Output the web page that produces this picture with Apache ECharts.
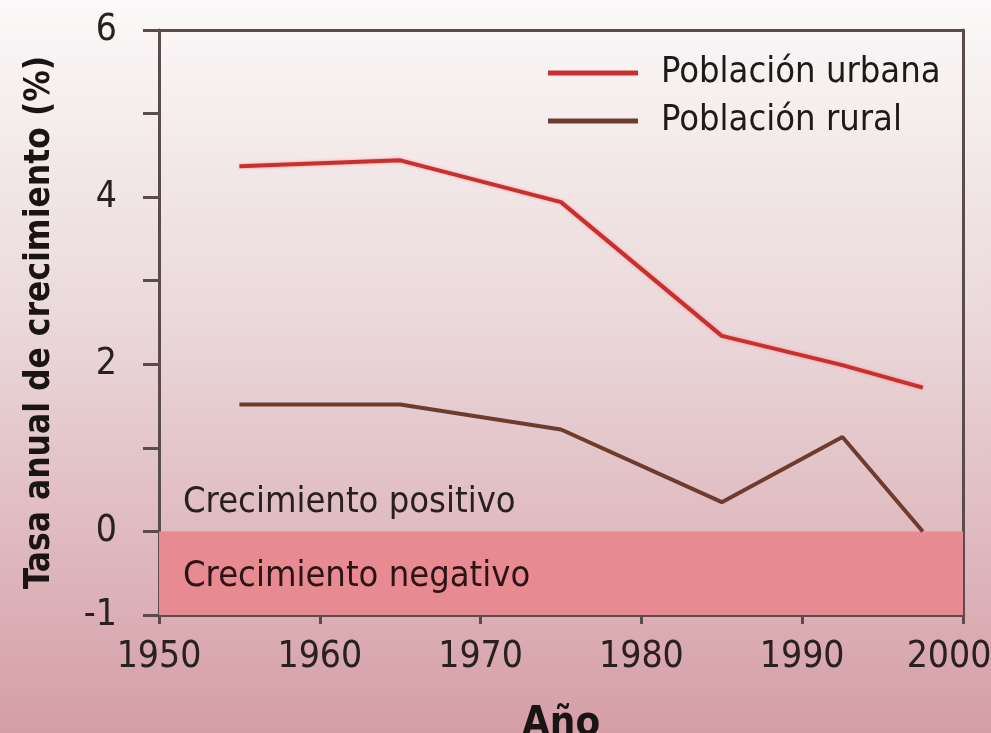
<!DOCTYPE html>
<html>
<head>
<meta charset="utf-8">
<script src="https://cdn.jsdelivr.net/npm/echarts@6/dist/echarts.min.js"></script>
<style>
html,body{margin:0;padding:0;}
#chart{width:991px;height:733px;}
</style>
</head>
<body>
<div id="chart"></div>
<script>
const urbanYears = [1955, 1965, 1975, 1985, 1992.5, 1997.5];
const urbanValues = [4.37, 4.44, 3.94, 2.34, 1.99, 1.72];
const ruralYears = [1955, 1965, 1975, 1985, 1992.5, 1997.5];
const ruralValues = [1.52, 1.52, 1.22, 0.35, 1.13, 0.0];
const seriesNames = ['Población urbana', 'Población rural'];
const yLabelValues = [-1, 0, 2, 4, 6];
const xTitle = 'Año';
const yTitle = 'Tasa anual de crecimiento (%)';
const positiveLabel = 'Crecimiento positivo';
const negativeLabel = 'Crecimiento negativo';

const FONT = "'Liberation Sans Narrow', 'DejaVu Sans Condensed', 'Open Sans', sans-serif";
const AX = '#5a4b4d';

const chart = echarts.init(document.getElementById('chart'));
chart.setOption({
  animation: false,
  backgroundColor: {
    type: 'linear', x: 0, y: 0, x2: 0, y2: 1,
    colorStops: [
      {offset: 0, color: '#fbf9f9'},
      {offset: 0.45, color: '#ead7d9'},
      {offset: 1, color: '#d59ea6'}
    ]
  },
  grid: {left: 159, right: 28, top: 30, bottom: 118, containLabel: false, outerBoundsMode: 'none'},
  legend: {
    orient: 'vertical', left: 543, top: 50,
    itemWidth: 90, itemHeight: 5, itemGap: 12, icon: 'rect',
    textStyle: {fontFamily: FONT, fontSize: 36, lineHeight: 36, color: '#1e1a1a', padding: [0, 0, 0, 18]},
    data: seriesNames
  },
  xAxis: [{
    type: 'value', min: 1950, max: 2000, interval: 10,
    name: xTitle, nameLocation: 'middle', nameGap: 90,
    nameTextStyle: {fontFamily: FONT, fontSize: 40, fontWeight: 'bold', color: '#1a1414'},
    axisLine: {show: true, onZero: false, lineStyle: {color: AX, width: 3}},
    axisTick: {show: true, length: 9, lineStyle: {color: AX, width: 3}},
    axisLabel: {
      fontFamily: FONT, fontSize: 37, color: '#2a2020', margin: 24,
      formatter: v => v === 2000 ? '{e|' + v + '}' : String(v),
      rich: {e: {fontFamily: FONT, fontSize: 37, color: '#2a2020', padding: [0, 28, 0, 0]}}
    },
    splitLine: {show: false}
  }, {
    type: 'value', min: 1950, max: 2000, position: 'top',
    axisLine: {show: true, onZero: false, lineStyle: {color: AX, width: 3}},
    axisTick: {show: false}, axisLabel: {show: false}, splitLine: {show: false}
  }],
  yAxis: [{
    type: 'value', min: -1, max: 6, interval: 1,
    name: yTitle, nameLocation: 'middle', nameGap: 102, nameRotate: 90,
    nameTextStyle: {fontFamily: FONT, fontSize: 35, fontWeight: 'bold', color: '#1a1414'},
    axisLine: {show: true, onZero: false, lineStyle: {color: AX, width: 3}},
    axisTick: {show: true, length: 16, lineStyle: {color: AX, width: 3}},
    axisLabel: {
      fontFamily: FONT, fontSize: 37, color: '#2a2020', margin: 42,
      formatter: v => yLabelValues.indexOf(v) >= 0 ? String(v) : ''
    },
    splitLine: {show: false}
  }, {
    type: 'value', min: -1, max: 6, position: 'right',
    axisLine: {show: true, onZero: false, lineStyle: {color: AX, width: 3}},
    axisTick: {show: false}, axisLabel: {show: false}, splitLine: {show: false}
  }],
  series: [{
    name: seriesNames[0], type: 'line', symbol: 'none', z: 5,
    data: urbanYears.map((y, i) => [y, urbanValues[i]]),
    lineStyle: {color: '#c8302e', width: 4, shadowColor: 'rgba(255,80,80,0.5)', shadowBlur: 3},
    itemStyle: {color: '#c8302e'}
  }, {
    name: seriesNames[1], type: 'line', symbol: 'none', z: 5,
    data: ruralYears.map((y, i) => [y, ruralValues[i]]),
    lineStyle: {color: '#6e3c2f', width: 4},
    itemStyle: {color: '#6e3c2f'},
    markArea: {
      silent: true,
      data: [
        [{yAxis: -1, itemStyle: {color: '#e88a91'},
          label: {show: true, position: 'insideLeft', distance: 24, offset: [0, 3], formatter: negativeLabel,
                  fontFamily: FONT, fontSize: 36, color: '#2a1416'}},
         {yAxis: 0}],
        [{yAxis: 0, itemStyle: {color: 'rgba(0,0,0,0)'},
          label: {show: true, position: 'insideBottomLeft', distance: 24, offset: [0, 13], formatter: positiveLabel,
                  fontFamily: FONT, fontSize: 36, color: '#2a1f20'}},
         {yAxis: 1}]
      ]
    }
  }]
});
</script>
</body>
</html>
